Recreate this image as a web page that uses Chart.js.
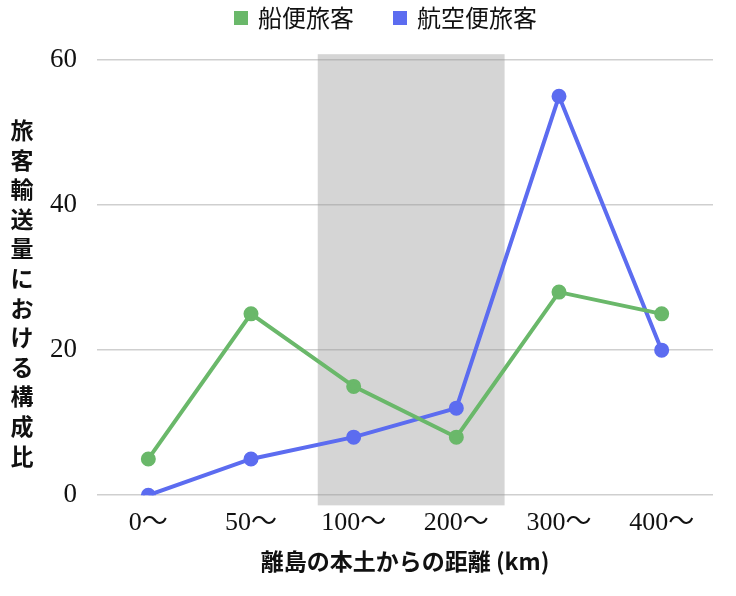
<!DOCTYPE html>
<html>
<head>
<meta charset="utf-8">
<script src="https://cdn.jsdelivr.net/npm/chart.js@4"></script>
<style>
  body { margin: 0; background: #fff; }
  #wrap { width: 736px; height: 596px; }
</style>
</head>
<body>
<div id="wrap"><canvas id="chart" width="736" height="596"></canvas></div>
<script>
const distances = ["0〜", "50〜", "100〜", "200〜", "300〜", "400〜"];
const shipShare = [5, 25, 15, 8, 28, 25];
const airShare = [0, 5, 8, 12, 55, 20];
const yTicks = [0, 20, 40, 60];
const yTitle = "旅客輸送量における構成比";
const xTitle = "離島の本土からの距離 (km)";

// shaded band, in axis units
const band = { from: 1.65, to: 3.47, top: 60.8, bottom: -1.4 };

const serif = "'Liberation Serif', 'Noto Sans CJK JP', serif";
const sans = "'Noto Sans CJK JP', 'Noto Sans', sans-serif";

const bandPlugin = {
  id: "band",
  beforeDatasetsDraw(chart) {
    const { ctx, scales: { x, y } } = chart;
    const x1 = x.getPixelForValue(band.from);
    const x2 = x.getPixelForValue(band.to);
    const y1 = y.getPixelForValue(band.top);
    const y2 = y.getPixelForValue(band.bottom);
    ctx.save();
    ctx.fillStyle = "rgba(150,150,150,0.4)";
    ctx.fillRect(x1, y1, x2 - x1, y2 - y1);
    ctx.restore();
  }
};

const vTitlePlugin = {
  id: "vtitle",
  afterDraw(chart) {
    const ctx = chart.ctx;
    const chars = Array.from(yTitle);
    const step = 29.6;
    const mid = 293;
    ctx.save();
    ctx.fillStyle = "#111";
    ctx.font = "bold 23px " + sans;
    ctx.textAlign = "center";
    ctx.textBaseline = "middle";
    chars.forEach((c, i) => {
      ctx.fillText(c, 22, mid + (i - (chars.length - 1) / 2) * step);
    });
    ctx.restore();
  }
};

// more room under the legend, and nudge it right a little
const legendGap = {
  id: "legendGap",
  beforeInit(chart) {
    const fit = chart.legend.fit;
    chart.legend.fit = function () {
      fit.bind(this)();
      this.height += 20;
    };
  },
  afterLayout(chart) {
    chart.legend.left += 15;
    chart.legend.right += 15;
  }
};

new Chart(document.getElementById("chart"), {
  type: "line",
  data: {
    labels: distances,
    datasets: [
      {
        label: "船便旅客",
        data: shipShare,
        borderColor: "#6ab86a",
        backgroundColor: "#6ab86a",
        borderWidth: 4,
        pointRadius: 5.5,
        pointHoverRadius: 5.5,
        tension: 0
      },
      {
        label: "航空便旅客",
        data: airShare,
        borderColor: "#5c6cf0",
        backgroundColor: "#5c6cf0",
        borderWidth: 4,
        pointRadius: 5.5,
        pointHoverRadius: 5.5,
        tension: 0
      }
    ]
  },
  options: {
    responsive: false,
    animation: false,
    layout: { padding: { left: 30, right: 23, top: -35, bottom: 21 } },
    plugins: {
      tooltip: { enabled: false },
      legend: {
        position: "top",
        labels: {
          boxWidth: 10,
          boxHeight: 10,
          padding: 41,
          color: "#111",
          font: { family: sans, size: 24 }
        }
      }
    },
    scales: {
      x: {
        offset: true,
        grid: { display: false, drawTicks: false },
        border: { display: false },
        ticks: { color: "#111", padding: 12, font: { family: serif, size: 26 } },
        title: {
          display: true,
          text: xTitle,
          color: "#111",
          padding: { top: -3, bottom: 0 },
          font: { family: sans, size: 23, weight: "bold" }
        }
      },
      y: {
        min: 0,
        max: 60,
        afterBuildTicks(axis) { axis.ticks = yTicks.map(v => ({ value: v })); },
        grid: { color: "#cfcfcf", lineWidth: 1.5, drawTicks: false },
        border: { display: false },
        ticks: { color: "#111", padding: 20, font: { family: serif, size: 27 } }
      }
    }
  },
  plugins: [bandPlugin, vTitlePlugin, legendGap]
});
</script>
</body>
</html>
